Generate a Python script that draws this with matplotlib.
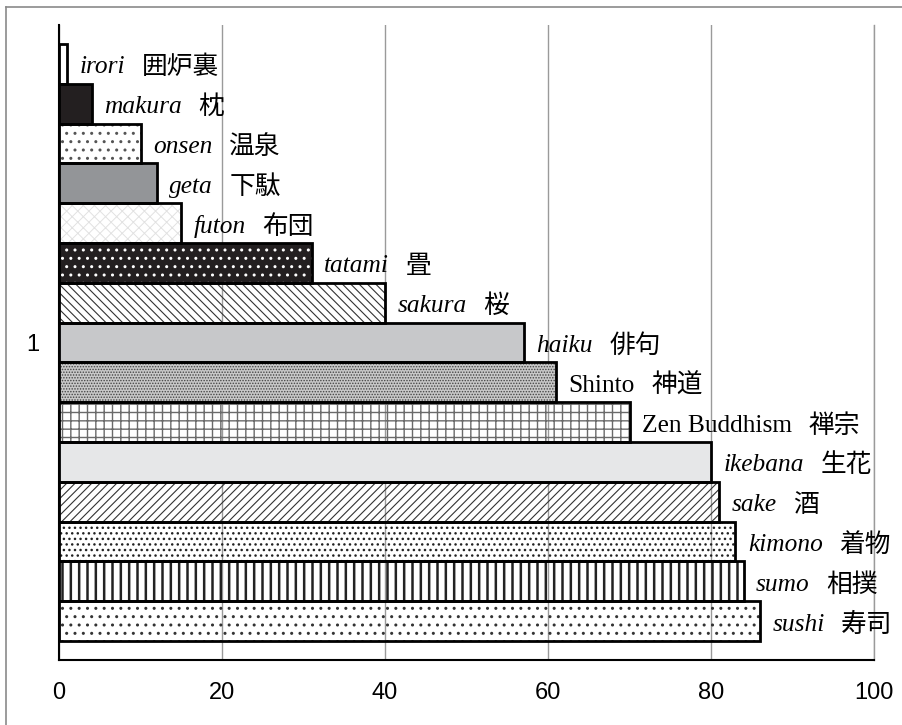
import matplotlib
matplotlib.use("Agg")
import matplotlib.pyplot as plt
from matplotlib.lines import Line2D
from matplotlib import font_manager as fm

names = ['irori', 'makura', 'onsen', 'geta', 'futon', 'tatami', 'sakura', 'haiku',
         'Shinto', 'Zen Buddhism', 'ikebana', 'sake', 'kimono', 'sumo', 'sushi']
kanji = ['囲炉裏', '枕', '温泉', '下駄', '布団', '畳', '桜', '俳句',
         '神道', '禅宗', '生花', '酒', '着物', '相撲', '寿司']
values = [1, 4, 10, 12, 15, 31, 40, 57, 61, 70, 80, 81, 83, 84, 86]
italic = [True] * 8 + [False, False] + [True] * 5
category = ['1']
xticks = [0, 20, 40, 60, 80, 100]

# (facecolor, hatch, hatchcolor, hatch linewidth)
styles = [
    ('white', None, 'black', 1.0),
    ('#231f20', None, 'black', 1.0),
    ('none', '..', '#555555', 1.0),
    ('#939598', None, 'black', 1.0),
    ('none', 'xxx', '#e2e2e2', 0.7),
    ('#231f20', '..', 'white', 1.0),
    ('none', '\\\\\\\\', '#333333', 0.8),
    ('#c7c8ca', None, 'black', 1.0),
    ('#c8c8c8', '......', '#444444', 0.7),
    ('none', '++', '#6a6a6a', 1.0),
    ('#e6e7e8', None, 'black', 1.0),
    ('none', '////', '#333333', 0.8),
    ('none', '...', '#222222', 1.0),
    ('none', '||', '#222222', 1.8),
    ('none', '..', '#333333', 1.0),
]

avail = {f.name for f in fm.fontManager.ttflist}
tick_family = 'Liberation Sans Narrow' if 'Liberation Sans Narrow' in avail else 'Liberation Sans'

W, H = 902, 725
fig = plt.figure(figsize=(W / 100, H / 100), dpi=100)
ax = fig.add_axes([59 / W, 1 - 660 / H, (874 - 59) / W, (660 - 25) / H])

n = len(values)
h = 0.94 / n
for i, (v, st) in enumerate(zip(values, styles)):
    y = (n - 1) / 2 * h - i * h
    face, hatch, hc, hlw = st
    with plt.rc_context({'hatch.linewidth': hlw}):
        b = ax.barh(y, v, height=h, left=0, facecolor=face, hatch=hatch,
                    edgecolor=hc, linewidth=0, zorder=2)
        for p in b:
            if hasattr(p, 'set_hatch_linewidth'):
                p.set_hatch_linewidth(hlw)
    ax.barh(y, v, height=h, left=0, facecolor='none', edgecolor='black',
            linewidth=2.0, zorder=3)
    t1 = ax.annotate(names[i], xy=(v, y), xytext=(9, -2.5), textcoords='offset points',
                     ha='left', va='center', fontsize=18.3,
                     family='Liberation Serif',
                     style='italic' if italic[i] else 'normal', zorder=4)
    ax.annotate(kanji[i], xy=(1, 0.5), xycoords=t1, xytext=(12, 0),
                textcoords='offset points', ha='left', va='center',
                fontsize=18.5, family=['Noto Sans CJK JP', 'DejaVu Sans'], zorder=4)

ax.set_xlim(0, 100)
ax.set_ylim(-0.5, 0.5)
ax.set_xticks(xticks)
ax.set_xticklabels([str(x) for x in xticks], family=tick_family, fontsize=17)
ax.set_yticks([0])
ax.set_yticklabels(category, family=tick_family, fontsize=17)
ax.tick_params(axis='both', length=0)
ax.tick_params(axis='x', pad=16)
ax.tick_params(axis='y', pad=14)
ax.xaxis.grid(True, color='#9a9a9a', linewidth=1.0, zorder=0)
ax.set_axisbelow(True)
ax.spines['top'].set_visible(False)
ax.spines['right'].set_color('#9a9a9a')
ax.spines['right'].set_linewidth(1.0)
ax.spines['left'].set_linewidth(1.5)
ax.spines['bottom'].set_linewidth(1.5)

# figure frame (left and top edges)
fig.add_artist(Line2D([6 / W, 6 / W], [0, 1 - 7 / H], color='#8a8a8a', lw=1.2,
                      transform=fig.transFigure))
fig.add_artist(Line2D([6 / W, 1], [1 - 7 / H, 1 - 7 / H], color='#8a8a8a', lw=1.2,
                      transform=fig.transFigure))

fig.savefig('out.png', dpi=100)
